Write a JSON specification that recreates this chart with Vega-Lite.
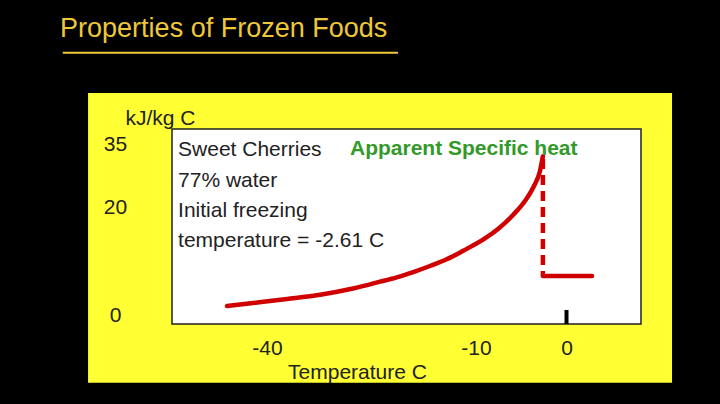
{
  "$schema": "https://vega.github.io/schema/vega-lite/v6.json",
  "width": 469,
  "height": 195,
  "autosize": {"type": "none"},
  "padding": {"left": 172, "top": 129, "right": 79, "bottom": 80},
  "background": "black",
  "config": {
    "view": {"stroke": null},
    "font": "Liberation Sans"
  },
  "datasets": {
    "panel": [{"temp": -65.69, "temp2": 11.66, "cp": -12.59, "cp2": 47.36}],
    "box": [{"temp": -53.64, "temp2": 8.23, "cp": -1.67, "cp2": 38.72}],
    "curve": [
      {"temp": -45.74, "cp": 1.67},
      {"temp": -42.01, "cp": 2.22},
      {"temp": -37.13, "cp": 2.96},
      {"temp": -32.39, "cp": 3.75},
      {"temp": -27.66, "cp": 4.91},
      {"temp": -23.78, "cp": 6.17},
      {"temp": -21.38, "cp": 6.98},
      {"temp": -19.0, "cp": 7.96},
      {"temp": -16.6, "cp": 9.07},
      {"temp": -14.21, "cp": 10.31},
      {"temp": -11.82, "cp": 11.91},
      {"temp": -9.01, "cp": 14.17},
      {"temp": -7.57, "cp": 15.93},
      {"temp": -5.86, "cp": 18.61},
      {"temp": -4.59, "cp": 21.44},
      {"temp": -3.59, "cp": 25.04},
      {"temp": -2.93, "cp": 28.64},
      {"temp": -2.61, "cp": 32.2}
    ],
    "drop": [
      {"temp": -2.61, "cp": 31.5},
      {"temp": -2.61, "cp": 7.22}
    ],
    "unfrozen": [
      {"temp": -2.61, "cp": 7.22},
      {"temp": 2.82, "cp": 7.22}
    ],
    "zero": [{"temp": 0, "cp": -1.67, "cp2": 0.93}],
    "notes": [
      {"temp": -52.77, "cp": 32.24, "label": "Sweet Cherries"},
      {"temp": -52.77, "cp": 24.87, "label": "77% water"},
      {"temp": -52.77, "cp": 18.2, "label": "Initial freezing"},
      {"temp": -52.77, "cp": 12.65, "label": "temperature = -2.61 C"}
    ],
    "heading": [{"temp": -28.09, "cp": 32.48, "label": "Apparent Specific heat"}],
    "title": [{"temp": -69.71, "cp": 60.8, "label": "Properties of Frozen Foods"}],
    "underline": [{"temp": -69.32, "temp2": -21.2, "cp": 57.03}]
  },
  "encoding": {
    "x": {
      "field": "temp",
      "type": "quantitative",
      "scale": {"domain": [-53.64, -40, -10, 0, 8.23], "range": [0, 95, 304, 394.5, 469], "nice": false, "zero": false},
      "axis": {
        "values": [-40, -10, 0],
        "labelExpr": "datum.value + ''",
        "grid": false,
        "ticks": false,
        "tickSize": 0,
        "domain": false,
        "labelFontSize": 21,
        "labelColor": "#222222",
        "labelPadding": 30,
        "labelBaseline": "alphabetic",
        "labelFlush": false,
        "labelOverlap": false,
        "title": "Temperature C",
        "titleFontSize": 21,
        "titleFontWeight": "normal",
        "titleColor": "#222222",
        "titleX": 185,
        "titleY": 54,
        "titleAlign": "center",
        "titleBaseline": "alphabetic",
        "zindex": 1
      }
    },
    "y": {
      "field": "cp",
      "type": "quantitative",
      "scale": {"domain": [-1.67, 0, 20, 35, 38.72], "range": [195, 186, 78, 15.5, 0], "nice": false, "zero": false},
      "axis": {
        "values": [0, 20, 35],
        "grid": false,
        "ticks": false,
        "tickSize": 0,
        "domain": false,
        "labelFontSize": 21,
        "labelColor": "#222222",
        "labelPadding": 57,
        "labelAlign": "center",
        "labelBaseline": "middle",
        "labelFlush": false,
        "labelOverlap": false,
        "title": "kJ/kg C",
        "titleFontSize": 21,
        "titleFontWeight": "normal",
        "titleColor": "#222222",
        "titleAngle": 0,
        "titleX": -12,
        "titleY": -5,
        "titleAlign": "center",
        "titleBaseline": "alphabetic",
        "zindex": 1
      }
    }
  },
  "layer": [
    {
      "data": {"name": "panel"},
      "mark": {"type": "rect", "color": "#ffff33"},
      "encoding": {"x2": {"field": "temp2"}, "y2": {"field": "cp2"}}
    },
    {
      "data": {"name": "box"},
      "mark": {"type": "rect", "fill": "white", "stroke": "#222222", "strokeWidth": 1.5},
      "encoding": {"x2": {"field": "temp2"}, "y2": {"field": "cp2"}}
    },
    {
      "data": {"name": "curve"},
      "mark": {"type": "line", "color": "#d00000", "strokeWidth": 4.5, "strokeCap": "round", "interpolate": "monotone"}
    },
    {
      "data": {"name": "drop"},
      "mark": {"type": "line", "color": "#d00000", "strokeWidth": 4.5, "strokeDash": [10, 6]}
    },
    {
      "data": {"name": "unfrozen"},
      "mark": {"type": "line", "color": "#d00000", "strokeWidth": 4.5, "strokeCap": "round"}
    },
    {
      "data": {"name": "zero"},
      "mark": {"type": "rule", "color": "black", "strokeWidth": 4},
      "encoding": {"y2": {"field": "cp2"}}
    },
    {
      "data": {"name": "notes"},
      "mark": {"type": "text", "align": "left", "baseline": "alphabetic", "fontSize": 21, "color": "#222222"},
      "encoding": {"text": {"field": "label", "type": "nominal"}}
    },
    {
      "data": {"name": "heading"},
      "mark": {"type": "text", "align": "left", "baseline": "alphabetic", "fontSize": 21, "fontWeight": "bold", "color": "#339a2a"},
      "encoding": {"text": {"field": "label", "type": "nominal"}}
    },
    {
      "data": {"name": "title"},
      "mark": {"type": "text", "align": "left", "baseline": "alphabetic", "fontSize": 27, "color": "#efc83a"},
      "encoding": {"text": {"field": "label", "type": "nominal"}}
    },
    {
      "data": {"name": "underline"},
      "mark": {"type": "rule", "color": "#efc83a", "strokeWidth": 2},
      "encoding": {"x2": {"field": "temp2"}}
    }
  ]
}
